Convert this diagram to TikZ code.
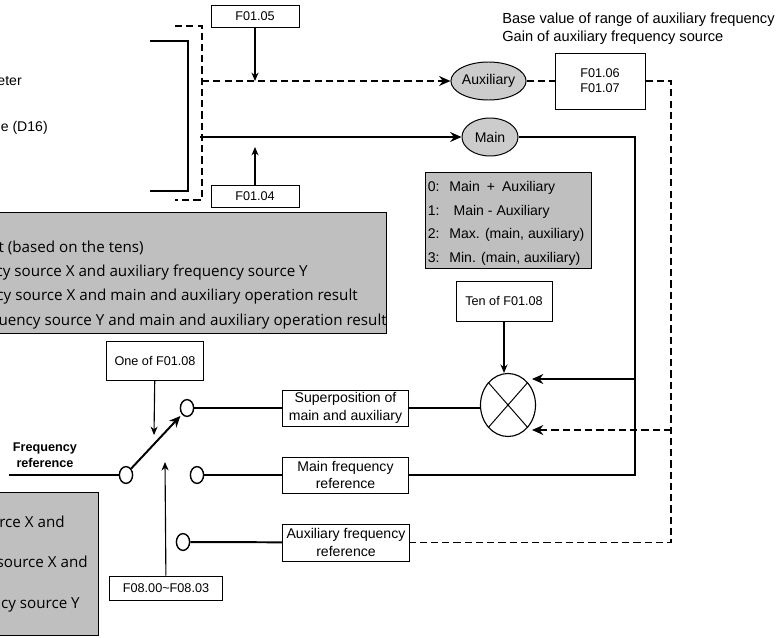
\documentclass[tikz,border=0pt]{standalone}
\usepackage{fontspec}
\setmainfont{Liberation Sans}
\newfontfamily\notefont{Open Sans}
\usepackage{tikz}
\usetikzlibrary{shapes,arrows.meta,positioning,calc}

\begin{document}
\begin{tikzpicture}[x=0.025cm, y=-0.025cm,
    every node/.style={font=\fontsize{9}{11}\selectfont, inner sep=1pt},
    box/.style={rectangle, draw, line width=0.7pt, fill=white, align=center},
    src/.style={ellipse, draw, line width=0.7pt, fill=gray!40, inner sep=0pt, font=\fontsize{10}{12}\selectfont},
    term/.style={ellipse, draw, line width=1pt, fill=white, minimum width=0.33cm, minimum height=0.42cm, inner sep=0pt},
    note/.style={rectangle, draw, line width=0.7pt, fill=gray!50},
    notetext/.style={anchor=east, inner sep=0pt, font=\notefont\fontsize{10.8}{12}\selectfont},
    sline/.style={line width=1.4pt},
    dline/.style={line width=1.4pt, dash pattern=on 5pt off 3pt},
    big/.style={-{Stealth[length=8pt,width=7pt]}},
    ptr/.style={line width=0.8pt, -{Stealth[length=6pt,width=5pt]}}
]
\clip (0,0) rectangle (781,637);

% Source selection (cut off)
\node[anchor=east, inner sep=0pt, font=\fontsize{10}{12}\selectfont] (srcA) at (22,81) {eter};
\node[anchor=east, inner sep=0pt, font=\fontsize{10}{12}\selectfont] (srcB) at (48,128) {e (D16)};
\draw[sline] (150,41) -- (188,41) -- (188,191) -- (150,191);
\draw[dline] (175,26) -- (202,26) -- (202,200) -- (175,200);

% Main and auxiliary sources
\node[box, minimum width=2.2cm, minimum height=0.55cm] (f0105) at (255,16) {F01.05};
\node[box, minimum width=2.2cm, minimum height=0.53cm] (f0104) at (255,196.5) {F01.04};
\node[src, minimum width=1.725cm, minimum height=0.95cm] (aux) at (488.5,81) {Auxiliary};
\node[src, minimum width=1.4cm, minimum height=0.95cm] (main) at (490,137) {Main};
\node[box, minimum width=2.25cm, minimum height=1.4cm, font=\fontsize{9}{10.6}\selectfont] (f0106) at (600,81) {F01.06\\F01.07};
\node[anchor=north west, inner sep=0pt, align=left, font=\fontsize{10.4}{12.8}\selectfont] (gain) at (502,12.5) {Base value of range of auxiliary frequency\\Gain of auxiliary frequency source};

\coordinate (auxin) at (202,81);
\coordinate (mainin) at (200,137);
\coordinate (auxtap) at (255,81);
\coordinate (maintap) at (255,147);
\draw[dline, big] (auxin) -- (aux);
\draw[sline, big] (mainin) -- (main);
\draw[ptr] (f0105) -- (auxtap);
\draw[ptr] (f0104) -- (maintap);
\draw[dline] (aux) -- (f0106);

% Operation modes
\node[note, minimum width=4.125cm, minimum height=2.375cm] (modes) at (508.5,220.5) {};
\node[anchor=north west, inner sep=0pt, align=left, font=\fontsize{10}{16.8}\selectfont] (modetext) at (427.5,181) {0:\hspace{7pt}Main\hspace{5pt}+\hspace{5pt}Auxiliary\\1:\hspace{10pt}Main - Auxiliary\\2:\hspace{7pt}Max. (main, auxiliary)\\3:\hspace{7pt}Min. (main, auxiliary)};
\node[box, minimum width=2.4cm, minimum height=1cm] (ten) at (504,301) {Ten of F01.08};
\node[ellipse, draw, line width=0.8pt, minimum width=1.375cm, minimum height=1.575cm] (mixer) at (508,405) {};
\draw[line width=0.7pt] (mixer.north west) -- (mixer.south east);
\draw[line width=0.7pt] (mixer.north east) -- (mixer.south west);
\draw[ptr] (ten) -- (ten |- mixer.north);

% Frequency reference selection (cut off)
\node[note, minimum width=9.95cm, minimum height=3.025cm, anchor=north east] (choice) at (387,212) {};
\node[notetext] (choiceA) at (144,248) {t (based on the tens)};
\node[notetext] (choiceB) at (308,273) {cy source X and auxiliary frequency source Y};
\node[notetext] (choiceC) at (358,297) {cy source X and main and auxiliary operation result};
\node[notetext] (choiceD) at (387,322) {uency source Y and main and auxiliary operation result};

\node[note, minimum width=2.725cm, minimum height=3.575cm, anchor=north east] (pick) at (99,492) {};
\node[notetext] (pickA) at (65,522) {rce X and};
\node[notetext] (pickB) at (88,562) {source X and};
\node[notetext] (pickC) at (80,605) {cy source Y};

% Switch
\node[align=center, font=\bfseries\fontsize{9}{11.3}\selectfont] (freqref) at (45,455) {Frequency\\reference};
\node[term] (in) at (126,475) {};
\node[term] (up) at (187,408) {};
\node[term] (mid) at (197,475) {};
\node[term] (low) at (183,542) {};
\node[box, minimum width=2.4cm, minimum height=0.975cm] (one) at (155,360.5) {One of F01.08};
\node[box, minimum width=2.8cm, minimum height=0.6cm] (f0800) at (166,588) {F08.00\textasciitilde F08.03};
\node[box, minimum width=3.125cm, minimum height=0.9cm, inner sep=0pt, font=\fontsize{10}{12.5}\selectfont] (sup) at (345.5,408) {Superposition of\\main and auxiliary};
\node[box, minimum width=3.125cm, minimum height=0.9cm, inner sep=0pt, font=\fontsize{10}{12.5}\selectfont] (mainref) at (345.5,475) {Main frequency\\reference};
\node[box, minimum width=3.15cm, minimum height=0.925cm, inner sep=0pt, font=\fontsize{10}{12.5}\selectfont] (auxref) at (346,542.5) {Auxiliary frequency\\reference};

\coordinate (fin) at (9,475);
\coordinate (onetap) at (154,435);
\coordinate (settap) at (165,462);
\draw[sline] (fin) -- (in);
\draw[sline, big, shorten >=1.5pt] (in.north east) -- (up.south west);
\draw[ptr] (one) -- (onetap);
\draw[ptr] (f0800) -- (settap);
\draw[sline] (up) -- (sup);
\draw[sline] (mid) -- (mainref);
\draw[sline] (low) -- (auxref);
\draw[sline] (sup) -- (sup -| mixer.west);

% Return paths
\coordinate (mbus) at (635,137);
\coordinate (mtap) at (635,379);
\coordinate (mhit) at (532,379);
\coordinate (abus) at (671,81);
\coordinate (atap) at (671,430);
\coordinate (ahit) at (532,430);
\draw[sline] (main) -- (mbus) |- (mainref.east);
\draw[sline, big] (mtap) -- (mhit);
\draw[dline] (f0106) -- (abus) |- (auxref.east);
\draw[dline, big] (atap) -- (ahit);

\end{tikzpicture}
\end{document}
